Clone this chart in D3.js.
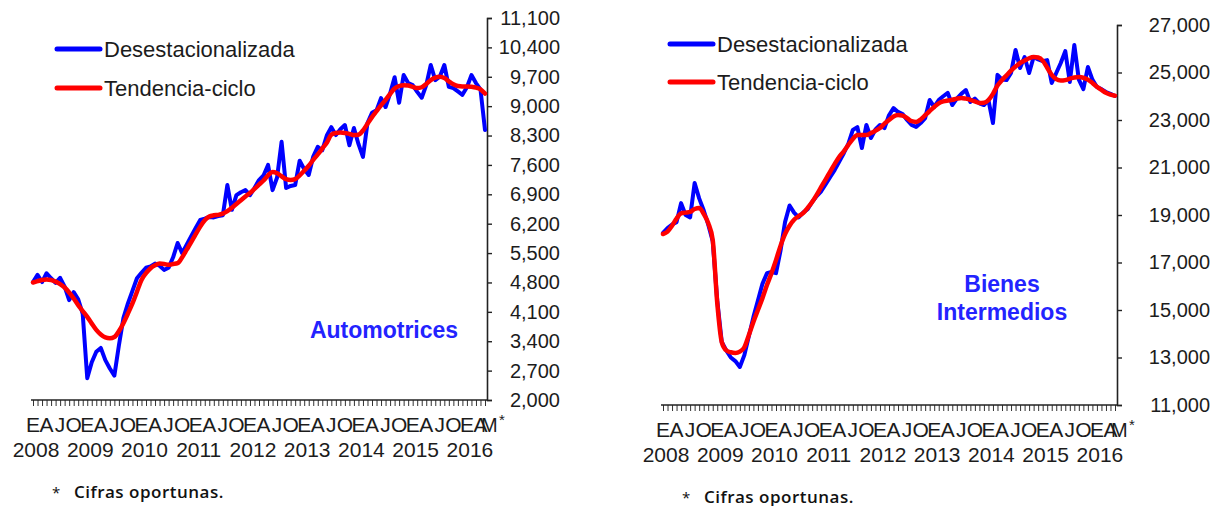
<!DOCTYPE html>
<html><head><meta charset="utf-8">
<script src="https://cdn.jsdelivr.net/npm/d3@7"></script>
<style>
body{margin:0;background:#fff}
svg{display:block}
text{font-family:"Liberation Sans",Arial,sans-serif}
</style>
</head><body>
<svg id="chart" width="1217" height="506"></svg>
<script>
// ---------- DATA (monthly, Jan 2008 .. May 2016) ----------
const autoSA = [4810,4980,4810,5020,4900,4790,4910,4700,4380,4570,
 4400,4050,2520,2900,3150,3240,2950,2750,2580,3300,
 3950,4300,4600,4900,5030,5150,5180,5250,5200,5100,
 5150,5400,5740,5500,5700,5900,6100,6290,6320,6360,
 6350,6380,6400,7120,6530,6880,6950,7000,6880,7050,
 7240,7350,7600,7000,7300,8150,7050,7100,7120,7700,
 7500,7360,7800,8030,7950,8300,8500,8310,8450,8550,
 8070,8480,8100,7790,8600,8840,8900,9190,8980,9300,
 9690,9080,9740,9550,9500,9340,9200,9500,9980,9620,
 9700,9980,9460,9430,9350,9270,9450,9740,9550,9400,
 8430];
const autoTrend = [4800,4830,4860,4870,4860,4820,4760,4680,4560,4420,
 4260,4120,3980,3820,3670,3560,3490,3470,3500,3640,
 3830,4060,4300,4580,4860,5020,5140,5210,5250,5240,
 5220,5240,5260,5400,5580,5760,5950,6130,6280,6370,
 6400,6410,6440,6500,6580,6670,6760,6850,6930,7030,
 7130,7230,7350,7430,7400,7330,7260,7240,7260,7350,
 7460,7580,7720,7850,7990,8130,8320,8360,8370,8360,
 8340,8310,8320,8420,8580,8740,8880,9020,9150,9290,
 9420,9480,9500,9490,9460,9430,9450,9530,9620,9680,
 9700,9670,9590,9520,9480,9470,9470,9460,9440,9400,
 9300];
const bienesSA = [18250,18450,18600,18700,19500,19000,18900,20350,19700,19200,
 18600,17900,15400,13650,13300,13000,12850,12600,13100,13900,
 14700,15400,16100,16550,16600,16550,17500,18700,19400,19100,
 18900,19100,19250,19550,19800,20000,20300,20600,20900,21250,
 21600,22000,22580,22700,21820,22790,22240,22600,22790,22660,
 23200,23500,23340,23250,23000,22790,22710,22870,23080,23840,
 23550,23840,24000,24140,23630,23900,24100,24260,23760,23900,
 23700,23630,23840,22870,24900,24700,24680,24980,25950,25190,
 25650,24980,25650,25550,25480,25520,24560,24980,25400,25900,
 24600,26160,24700,24300,25230,24700,24390,24300,24180,24100,
 24010];
const bienesTrend = [18200,18300,18550,18850,19070,19100,19130,19250,19300,19050,
 18660,17950,15300,13650,13300,13220,13190,13250,13430,13950,
 14500,15000,15500,16050,16550,17100,17700,18200,18550,18800,
 18950,19080,19300,19550,19850,20180,20500,20830,21150,21450,
 21680,21950,22200,22370,22370,22370,22450,22550,22660,22850,
 23000,23150,23210,23180,23080,22950,22920,23020,23200,23380,
 23550,23700,23780,23820,23850,23900,23930,23900,23850,23780,
 23720,23730,23840,24100,24450,24680,24880,25080,25250,25400,
 25500,25600,25650,25630,25500,25200,24900,24720,24660,24680,
 24740,24790,24810,24780,24700,24560,24400,24270,24150,24070,
 24020];
const yearLabels = ["2008","2009","2010","2011","2012","2013","2014","2015","2016"];
const monthInitials = ["E","F","M","A","M","J","J","A","S","O","N","D"];
const labelledMonths = [0,3,6,9];
const preliminaryMark = "*";
const autoTicks = [2000,2700,3400,4100,4800,5500,6200,6900,7600,8300,9000,9700,10400,11100];
const bienesTicks = [11000,13000,15000,17000,19000,21000,23000,25000,27000];
const legendLabels = ["Desestacionalizada","Tendencia-ciclo"];
const footnote = "Cifras oportunas.";

// ---------- DRAWING ----------
const svg = d3.select("#chart");
const BLUE = "#0000ff", RED = "#ff0000", TITLE = "#2323ff", INK = "#1c1c1c";

function panel(cfg, sa, trend, ticks, titleLines){
  const n = sa.length;
  const x = d3.scaleLinear().domain([0, n-1]).range([cfg.x0, cfg.x1]);
  const y = d3.scaleLinear().domain([ticks[0], ticks[ticks.length-1]]).range([cfg.yBot, cfg.yTop]);
  const g = svg.append("g");

  // bottom axis with monthly ticks
  const xa = g.append("g").attr("transform", `translate(0,${cfg.yBot})`)
    .call(d3.axisBottom(x).tickValues(d3.range(n)).tickSize(6).tickFormat(""));
  xa.select(".domain").remove();
  xa.selectAll(".tick line").attr("stroke", "#333").attr("stroke-width", 1);
  g.append("line").attr("x1", x(0)-2).attr("x2", cfg.axisX)
    .attr("y1", cfg.yBot).attr("y2", cfg.yBot).attr("stroke", "#222").attr("stroke-width", 1.6);

  // right value axis
  const ya = g.append("g").attr("transform", `translate(${cfg.axisX},0)`)
    .call(d3.axisRight(y).tickValues(ticks).tickSize(5).tickSizeOuter(5).tickFormat(d3.format(",")));
  ya.select(".domain").attr("stroke", "#222").attr("stroke-width", 1.6);
  ya.selectAll(".tick line").attr("stroke", "#222").attr("stroke-width", 1.4);
  ya.selectAll(".tick text").attr("x", cfg.labelRight).attr("text-anchor", "end")
    .style("font-family", '"Liberation Sans",Arial,sans-serif').style("font-size", "20px").style("fill", INK);

  // month letters
  const mg = g.append("g").style("fill", INK);
  for (let i = 0; i < n; i++){
    const m = i % 12;
    if (i === n-1){
      mg.append("text").attr("x", x(i)-4).attr("y", cfg.yBot+32).attr("text-anchor", "start")
        .style("font-size", "20px").text(monthInitials[m]);
      mg.append("text").attr("x", x(i)+14).attr("y", cfg.yBot+25).attr("text-anchor", "start")
        .style("font-size", "15px").text(preliminaryMark);
    } else if (labelledMonths.includes(m)){
      mg.append("text").attr("x", x(i)).attr("y", cfg.yBot+32).attr("text-anchor", "middle")
        .style("font-size", "21px").text(monthInitials[m]);
    }
  }
  // years
  yearLabels.forEach((yr, k) => {
    g.append("text").attr("x", x(k*12)+cfg.yearShift).attr("y", cfg.yBot+57).attr("text-anchor", "middle")
      .style("font-size", "21px").style("fill", INK).text(yr);
  });

  // series
  const line = d3.line().x((d,i) => x(i)).y(d => y(d)).curve(d3.curveLinear);
  g.append("path").datum(sa).attr("d", line).attr("fill", "none").attr("stroke", BLUE)
    .attr("stroke-width", 4).attr("stroke-linejoin", "round").attr("stroke-linecap", "round");
  g.append("path").datum(trend).attr("d", line.curve(d3.curveMonotoneX)).attr("fill", "none").attr("stroke", RED)
    .attr("stroke-width", 4.5).attr("stroke-linejoin", "round").attr("stroke-linecap", "round");

  // legend
  [BLUE, RED].forEach((c, k) => {
    const ly = cfg.legY + k*cfg.legGap;
    g.append("line").attr("x1", cfg.legX).attr("x2", cfg.legX+43).attr("y1", ly).attr("y2", ly)
      .attr("stroke", c).attr("stroke-width", 5).attr("stroke-linecap", "round");
    g.append("text").attr("x", cfg.legX+47).attr("y", ly).attr("dy", "0.35em")
      .style("font-size", "22px").style("fill", INK).text(legendLabels[k]);
  });

  // panel title
  titleLines.forEach((t, k) => {
    g.append("text").attr("x", cfg.titleX).attr("y", cfg.titleY + k*28).attr("text-anchor", "middle")
      .style("font-size", "23px").style("font-weight", "bold").style("fill", TITLE).text(t);
  });

  // footnote
  g.append("text").attr("x", cfg.footX).attr("y", cfg.footY).style("font-family", '"Open Sans",sans-serif')
    .style("font-size", "15px").style("fill", "#111").text(preliminaryMark);
  g.append("text").attr("x", cfg.footX+22).attr("y", cfg.footY).style("font-family", '"Open Sans",sans-serif')
    .style("font-size", "17px").style("fill", "#111").style("font-weight", "600")
    .style("letter-spacing", "0.5px")
    .text(footnote);
}

panel({x0:33, x1:485, axisX:487, yTop:18, yBot:400, labelRight:73, yearShift:3,
       legX:57, legY:49, legGap:39, titleX:384, titleY:338, footX:52, footY:498},
      autoSA, autoTrend, autoTicks, ["Automotrices"]);
panel({x0:663, x1:1115, axisX:1117, yTop:25, yBot:405, labelRight:93, yearShift:3,
       legX:670, legY:44, legGap:38, titleX:1002, titleY:292, footX:682, footY:503},
      bienesSA, bienesTrend, bienesTicks, ["Bienes","Intermedios"]);
</script>
</body></html>
